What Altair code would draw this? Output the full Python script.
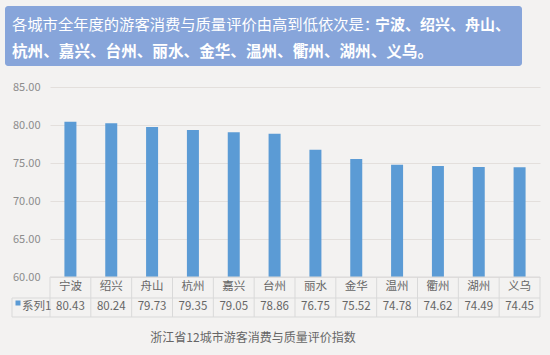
import altair as alt
import pandas as pd

cities = ["宁波", "绍兴", "舟山", "杭州", "嘉兴", "台州", "丽水", "金华", "温州", "衢州", "湖州", "义乌"]
values = [80.43, 80.24, 79.73, 79.35, 79.05, 78.86, 76.75, 75.52, 74.78, 74.62, 74.49, 74.45]
value_labels = ["80.43", "80.24", "79.73", "79.35", "79.05", "78.86", "76.75", "75.52", "74.78", "74.62", "74.49", "74.45"]
y_ticks = [60, 65, 70, 75, 80, 85]
series_name = "系列1"
title_line1_regular = "各城市全年度的游客消费与质量评价由高到低依次是："
title_line1_bold = "宁波、绍兴、舟山、"
title_line2_bold = "杭州、嘉兴、台州、丽水、金华、温州、衢州、湖州、义乌。"
bottom_title = "浙江省12城市游客消费与质量评价指数"

FONT = "Noto Sans CJK SC"
BLUE = "#5b9bd5"
GRID = "#d9d9d9"
TXT = "#666666"

df = pd.DataFrame({"city": cities, "value": values, "label": value_labels})

xenc = alt.X("city:N", sort=cities, scale=alt.Scale(paddingInner=0, paddingOuter=0), axis=None)
yscale = alt.Scale(domain=[60, 85], zero=False, nice=False)

base = alt.Chart(df)

bars = base.mark_bar(size=12, color=BLUE).encode(
    x=xenc,
    y=alt.Y("value:Q", scale=yscale, axis=alt.Axis(
        values=y_ticks, format=".2f", title=None, domain=False, ticks=False,
        labelColor="#8c8c8c", labelFontSize=11, labelPadding=10, labelFont=FONT,
        gridColor="#e3dfdc", gridWidth=1)),
    y2=alt.datum(60),
)

cat_text = base.mark_text(font=FONT, fontSize=11.5, color=TXT, baseline="middle").encode(
    x=xenc, y=alt.value(200), text="city:N")
val_text = base.mark_text(font=FONT, fontSize=11.5, color=TXT, baseline="middle").encode(
    x=xenc, y=alt.value(220), text="label:N")

vlines = base.mark_rule(color=GRID, strokeWidth=1).encode(
    x=alt.X("city:N", sort=cities, bandPosition=0, scale=alt.Scale(paddingInner=0, paddingOuter=0), axis=None),
    y=alt.value(190), y2=alt.value(230))

lines_df = pd.DataFrame({
    "x1": [0, -38, -38, 490, -38],
    "x2": [490, 490, 490, 490, -38],
    "y1": [190, 211, 230, 190, 211],
    "y2": [190, 211, 230, 230, 230],
})
tlines = alt.Chart(lines_df).mark_rule(color=GRID, strokeWidth=1).encode(
    x=alt.X("x1:Q", scale=None), x2="x2:Q",
    y=alt.Y("y1:Q", scale=None), y2="y2:Q")

one = pd.DataFrame({"a": [0]})
legend_sq = alt.Chart(one).mark_square(size=25, color=BLUE, opacity=1).encode(
    x=alt.value(-32), y=alt.value(216))
legend_txt = alt.Chart(pd.DataFrame({"t": [series_name]})).mark_text(
    font=FONT, fontSize=11.5, color=TXT, align="left", baseline="middle").encode(
    x=alt.value(-28), y=alt.value(220), text="t:N")

title_box = alt.Chart(one).mark_rect(color="#87a5da", cornerRadius=3).encode(
    x=alt.value(-45), x2=alt.value(472), y=alt.value(-81), y2=alt.value(-21))
t1 = alt.Chart(pd.DataFrame({"t": [title_line1_regular]})).mark_text(
    font=FONT, fontSize=15.3, color="white", align="left", baseline="middle").encode(
    x=alt.value(-38), y=alt.value(-62), text="t:N")
t1b = alt.Chart(pd.DataFrame({"t": [title_line1_bold]})).mark_text(
    font=FONT, fontSize=15, fontWeight="bold", color="white", align="left", baseline="middle").encode(
    x=alt.value(325), y=alt.value(-62), text="t:N")
t2b = alt.Chart(pd.DataFrame({"t": [title_line2_bold]})).mark_text(
    font=FONT, fontSize=15.6, fontWeight="bold", color="white", align="left", baseline="middle").encode(
    x=alt.value(-38), y=alt.value(-35), text="t:N")

btitle = alt.Chart(pd.DataFrame({"t": [bottom_title]})).mark_text(
    font=FONT, fontSize=12, color=TXT, align="center", baseline="middle").encode(
    x=alt.value(203), y=alt.value(251), text="t:N")

chart = alt.layer(
    bars, vlines, tlines, cat_text, val_text, legend_sq, legend_txt,
    title_box, t1, t1b, t2b, btitle
).properties(
    width=490, height=190,
    autosize=alt.AutoSizeParams(type="none"),
    padding={"left": 50, "top": 87, "right": 10, "bottom": 78},
).configure(background="#f3f2f1", font=FONT).configure_view(stroke=None)

chart.save("out.html", embed_options={"renderer": "svg", "actions": False})
